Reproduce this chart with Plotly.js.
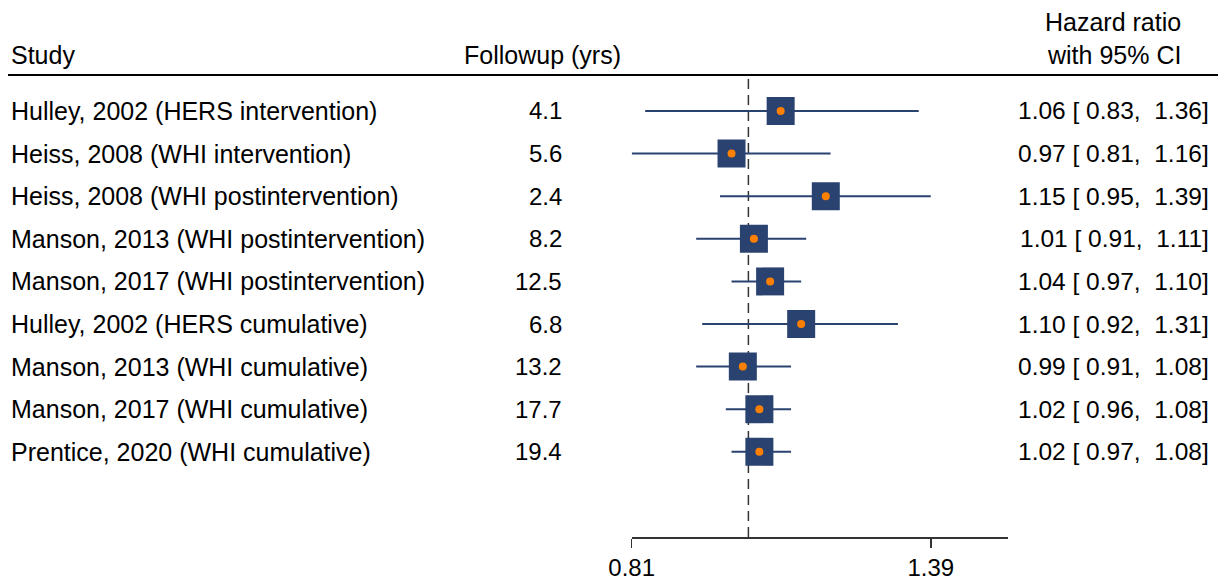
<!DOCTYPE html>
<html>
<head>
<meta charset="utf-8">
<script src="https://cdn.plot.ly/plotly-3.0.1.min.js"></script>
<style>html,body{margin:0;padding:0;background:#fff;}#chart{width:1225px;height:582px;}</style>
</head>
<body>
<div id="chart"></div>
<script>
const studies = [
  "Hulley, 2002 (HERS intervention)",
  "Heiss, 2008 (WHI intervention)",
  "Heiss, 2008 (WHI postintervention)",
  "Manson, 2013 (WHI postintervention)",
  "Manson, 2017 (WHI postintervention)",
  "Hulley, 2002 (HERS cumulative)",
  "Manson, 2013 (WHI cumulative)",
  "Manson, 2017 (WHI cumulative)",
  "Prentice, 2020 (WHI cumulative)"
];
const followup = [4.1, 5.6, 2.4, 8.2, 12.5, 6.8, 13.2, 17.7, 19.4];
const hr = [1.06, 0.97, 1.15, 1.01, 1.04, 1.10, 0.99, 1.02, 1.02];
const lo = [0.83, 0.81, 0.95, 0.91, 0.97, 0.92, 0.91, 0.96, 0.97];
const hi = [1.36, 1.16, 1.39, 1.11, 1.10, 1.31, 1.08, 1.08, 1.08];
const tickVals = [0.81, 1.39];
const tickLabels = ["0.81", "1.39"];

const W = 1225, H = 582;
const FONT = "Liberation Sans, Arial, Helvetica, sans-serif";
const NAVY = "#2a4270";
const ORANGE = "#ff8000";
const rows = studies.map((s, i) => i);

const traces = [
  {
    type: "scatter", mode: "markers", x: hr, y: rows,
    marker: {symbol: "square", size: 28, color: NAVY, line: {width: 0}},
    error_x: {type: "data", symmetric: false,
      array: hi.map((h, i) => h - hr[i]),
      arrayminus: lo.map((l, i) => hr[i] - l),
      width: 0, thickness: 2, color: NAVY},
    hoverinfo: "skip", showlegend: false
  },
  {
    type: "scatter", mode: "markers", x: hr, y: rows,
    marker: {symbol: "circle", size: 8, color: ORANGE, line: {width: 0}},
    hoverinfo: "skip", showlegend: false
  }
];

const f = (v) => v.toFixed(2);
const nb = "\u00a0";
const annotations = [];
const txt = {showarrow: false, font: {family: FONT, size: 25, color: "#000"}, yanchor: "middle"};
const num = {showarrow: false, font: {family: FONT, size: 24, color: "#000"}, yanchor: "middle"};
const hrFont = {showarrow: false, font: {family: FONT, size: 24.5, color: "#000"}, yanchor: "middle"};
studies.forEach((s, i) => {
  annotations.push(Object.assign({}, txt, {text: s, xref: "paper", x: 9 / W, xanchor: "left", yref: "y", y: i}));
  annotations.push(Object.assign({}, num, {text: followup[i].toFixed(1), xref: "paper", x: 564 / W, xanchor: "right", yref: "y", y: i}));
  annotations.push(Object.assign({}, hrFont, {
    text: f(hr[i]) + nb + "[" + nb + f(lo[i]) + "," + nb + nb + f(hi[i]) + "]",
    xref: "paper", x: 1211 / W, xanchor: "right", yref: "y", y: i}));
});
annotations.push(Object.assign({}, txt, {text: "Study", xref: "paper", x: 9 / W, xanchor: "left", yref: "paper", y: (H - 55) / H}));
annotations.push(Object.assign({}, txt, {text: "Followup (yrs)", xref: "paper", x: 623 / W, xanchor: "right", yref: "paper", y: (H - 55) / H}));
annotations.push(Object.assign({}, txt, {text: "Hazard ratio", xref: "paper", x: 1113 / W, xanchor: "center", yref: "paper", y: (H - 22) / H}));
annotations.push(Object.assign({}, txt, {text: "with 95% CI", xref: "paper", x: 1114 / W, xanchor: "center", yref: "paper", y: (H - 55) / H}));

const layout = {
  width: W, height: H,
  margin: {l: 0, r: 0, t: 0, b: 0},
  paper_bgcolor: "#fff", plot_bgcolor: "#fff",
  showlegend: false,
  xaxis: {
    type: "log",
    range: [Math.log10(0.81), Math.log10(1.598)],
    domain: [631.7 / W, 1008 / W],
    showline: true, linecolor: "#333", linewidth: 1.5,
    ticks: "outside", ticklen: 9, tickwidth: 1.5, tickcolor: "#333",
    tickvals: tickVals, ticktext: tickLabels,
    tickfont: {family: FONT, size: 24, color: "#000"},
    showgrid: false, zeroline: false, fixedrange: true
  },
  yaxis: {
    range: [10.0, -0.845],
    domain: [(H - 537) / H, (H - 75) / H],
    visible: false, showgrid: false, zeroline: false, fixedrange: true
  },
  shapes: [
    {type: "line", xref: "paper", yref: "paper", x0: 8 / W, x1: 1218 / W, y0: (H - 75) / H, y1: (H - 75) / H,
     line: {color: "#000", width: 2}},
    {type: "line", xref: "x", yref: "paper", x0: 1, x1: 1, y0: (H - 537) / H, y1: (H - 76) / H,
     line: {color: "#333", width: 1.5, dash: "10px,6px"}, layer: "below"}
  ],
  annotations: annotations
};

Plotly.newPlot("chart", traces, layout, {displayModeBar: false, staticPlot: true});
</script>
</body>
</html>
